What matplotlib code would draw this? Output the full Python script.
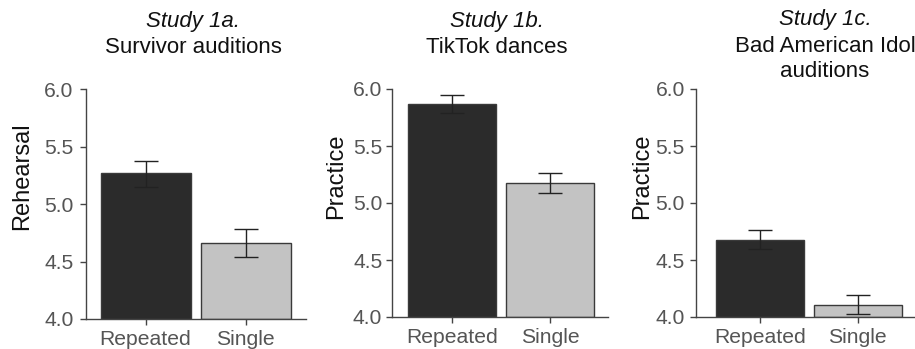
import matplotlib
matplotlib.use("Agg")
import matplotlib.pyplot as plt

plt.rcParams['font.family'] = ['Liberation Sans', 'DejaVu Sans']

conditions = ["Repeated", "Single"]
study_labels = ["Study 1a.", "Study 1b.", "Study 1c."]
study_names = ["Survivor auditions", "TikTok dances", "Bad American Idol\nauditions"]
y_labels = ["Rehearsal", "Practice", "Practice"]
means_1a = [5.267, 4.658]
means_1b = [5.866, 5.178]
means_1c = [4.677, 4.108]
lower_1a = [5.150, 4.536]
upper_1a = [5.377, 4.780]
lower_1b = [5.787, 5.090]
upper_1b = [5.945, 5.266]
lower_1c = [4.593, 4.024]
upper_1c = [4.762, 4.190]
y_ticks = [4.0, 4.5, 5.0, 5.5, 6.0]
y_tick_labels = ["4.0", "4.5", "5.0", "5.5", "6.0"]

means = [means_1a, means_1b, means_1c]
lowers = [lower_1a, lower_1b, lower_1c]
uppers = [upper_1a, upper_1b, upper_1c]

W, H = 915, 349
fig = plt.figure(figsize=(W / 100, H / 100), dpi=100)

# axes boxes in pixels: left, right, top, bottom
boxes = [(86, 306, 89, 319), (392, 608, 89, 317), (696, 914, 89, 317)]
xlims = [(0.405, 2.605), (0.385, 2.59), (0.35, 2.575)]
title_x = [193, 497, 825]
title_baselines = [[27, 53], [27, 53], [25, 52, 77]]
ytick_pads = [5, 3, 4]
ylabel_pads = [8, 4, 2]
ylabel_center_px = 176

bar_colors = ["#2b2b2b", "#c3c3c3"]
axis_col = "#444444"
tick_col = "#555555"

for i in range(3):
    l, r, t, b = boxes[i]
    ax = fig.add_axes([l / W, 1 - b / H, (r - l) / W, (b - t) / H])
    x = [1, 2]
    m = means[i]
    yerr = [[m[j] - lowers[i][j] for j in range(2)], [uppers[i][j] - m[j] for j in range(2)]]
    ax.bar(x, [v - 4.0 for v in m], bottom=4.0, width=0.9, color=bar_colors,
           edgecolor="#3a3a3a", linewidth=1.0, zorder=2)
    ax.errorbar(x, m, yerr=yerr, fmt="none", ecolor="#222222", elinewidth=1.0,
                capsize=8.6, capthick=1.0, zorder=3)
    ax.set_xlim(*xlims[i])
    ax.set_ylim(4.0, 6.0)
    ax.set_yticks(y_ticks)
    ax.set_yticklabels(y_tick_labels)
    ax.set_xticks(x)
    ax.set_xticklabels(conditions)
    for s in ["top", "right"]:
        ax.spines[s].set_visible(False)
    for s in ["left", "bottom"]:
        ax.spines[s].set_color(axis_col)
        ax.spines[s].set_linewidth(1.0)
    ax.tick_params(axis="both", colors=axis_col, length=4, width=1.0,
                   labelsize=15.2, labelcolor=tick_col)
    ax.tick_params(axis="y", pad=ytick_pads[i])
    ax.tick_params(axis="x", pad=4)
    ax.set_ylabel(y_labels[i], fontsize=17, color="#111111", labelpad=ylabel_pads[i])
    ax.yaxis.label.set_y((b - ylabel_center_px) / (b - t))
    ax.set_facecolor("none")

    # titles, one line each
    lines = [study_labels[i]] + study_names[i].split("\n")
    for k, txt in enumerate(lines):
        fig.text(title_x[i] / W, 1 - title_baselines[i][k] / H, txt, ha="center",
                 va="baseline", fontsize=16, color="#111111",
                 style="italic" if k == 0 else "normal")

fig.savefig("out.png", dpi=100)
